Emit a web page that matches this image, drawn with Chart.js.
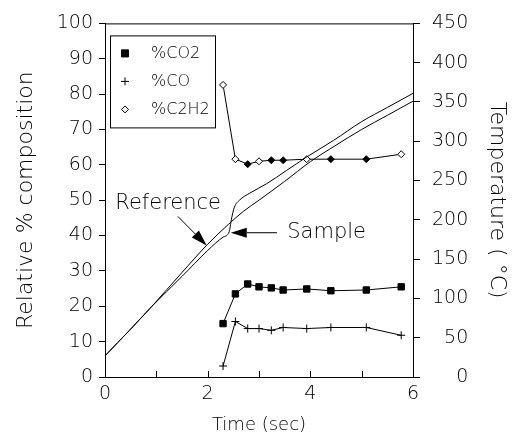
<!DOCTYPE html>
<html lang="en">
<head>
  <meta charset="UTF-8">
  <title>Composition and temperature vs time</title>
  <script src="https://cdn.jsdelivr.net/npm/chart.js"></script>
  <style>
    body { margin: 0; padding: 0; background: #fff; }
    #wrap { width: 522px; height: 437px; }
  </style>
</head>
<body>
  <div id="wrap"><canvas id="chart"></canvas></div>

  <script>
    // sampling times of the gas analysis (sec)
    const gasTimes = [2.3, 2.54, 2.78, 3.0, 3.24, 3.47, 3.93, 4.4, 5.09, 5.77];
    const co2 = [15.1, 23.5, 26.3, 25.5, 25.2, 24.6, 24.9, 24.4, 24.6, 25.5];
    const co = [3.1, 15.7, 13.7, 13.7, 13.2, 14.0, 13.7, 14.0, 14.0, 11.8];
    const c2h2 = [82.6, 61.6, 60.2, 61.0, 61.3, 61.3, 61.6, 61.6, 61.6, 63.0];
    const c2h2Filled = [false, false, true, false, true, true, false, true, true, false];

    // temperature traces (deg C, right axis)
    const refTimes = [0, 0.5, 0.9, 1.5, 2.0, 2.4, 2.7, 3.0, 3.5, 4.0, 4.5, 5.0, 5.5, 6.0];
    const refTemp = [27, 61, 89, 133, 169, 194, 211, 225, 249, 274, 295, 315, 333, 351];
    const sampleTimes = [0, 0.5, 0.9, 1.5, 2.0, 2.3, 2.42, 2.46, 2.52, 2.62, 2.82, 3.15, 3.54, 3.93, 4.45, 5.0, 5.5, 6.0];
    const sampleTemp = [27, 61, 89, 128, 161, 178, 185, 200, 216, 225, 234, 246, 263, 280, 301, 325, 343, 361];

    const xTicks = [0, 1, 2, 3, 4, 5, 6];
    const xLabels = ['0', '', '2', '', '4', '', '6'];

    const FONT = 'DejaVu Sans';
    Chart.defaults.font.family = FONT;
    Chart.defaults.font.size = 19;
    Chart.defaults.font.weight = 200;
    Chart.defaults.color = '#000';

    const pts = (xs, ys) => xs.map((x, i) => ({ x: x, y: ys[i] }));

    const extras = {
      id: 'extras',
      afterDraw(chart) {
        const ctx = chart.ctx;
        const a = chart.chartArea;
        const xs = chart.scales.x, ys = chart.scales.y;
        ctx.save();
        ctx.strokeStyle = '#000';
        ctx.fillStyle = '#000';
        ctx.lineWidth = 1;
        // frame
        ctx.strokeRect(a.left + 0.5, a.top + 0.5, a.right - a.left, a.bottom - a.top);
        // x ticks pointing inward
        xTicks.forEach(v => {
          const px = Math.round(xs.getPixelForValue(v)) + 0.5;
          ctx.beginPath();
          ctx.moveTo(px, a.bottom);
          ctx.lineTo(px, a.bottom - 6);
          ctx.stroke();
        });

        // legend box
        const lx = a.left + 5, ly = a.top + 12, lw = 105, lh = 92;
        ctx.strokeRect(lx + 0.5, ly + 0.5, lw, lh);
        ctx.font = '200 16px ' + FONT;
        ctx.textBaseline = 'middle';
        ctx.textAlign = 'left';
        const items = [
          { text: '%CO2', style: 'rect', r: 5, fill: '#000' },
          { text: '%CO', style: 'cross', r: 4, fill: '#000' },
          { text: '%C2H2', style: 'rectRot', r: 3.5, fill: '#fff' }
        ];
        items.forEach((it, i) => {
          const cy = ly + 18 + i * 28;
          ctx.fillStyle = it.fill;
          ctx.strokeStyle = '#000';
          Chart.helpers.drawPoint(ctx, { pointStyle: it.style, radius: it.r, borderWidth: 1 }, lx + 15, cy);
          ctx.fillStyle = '#000';
          ctx.fillText(it.text, lx + 41, cy);
        });

        // annotations
        ctx.font = '200 21px ' + FONT;
        ctx.textBaseline = 'middle';
        ctx.fillText('Reference', xs.getPixelForValue(0.2), ys.getPixelForValue(49));
        ctx.fillText('Sample', xs.getPixelForValue(3.55), ys.getPixelForValue(40.8));
        arrow(ctx, xs.getPixelForValue(1.42), ys.getPixelForValue(45.4), xs.getPixelForValue(1.98), ys.getPixelForValue(37.2));
        arrow(ctx, xs.getPixelForValue(3.35), ys.getPixelForValue(40.8), xs.getPixelForValue(2.45), ys.getPixelForValue(40.8));
        ctx.restore();
      }
    };

    function arrow(ctx, x1, y1, x2, y2) {
      const ang = Math.atan2(y2 - y1, x2 - x1);
      const len = 16, half = 5;
      ctx.beginPath();
      ctx.moveTo(x1, y1);
      ctx.lineTo(x2 - Math.cos(ang) * len, y2 - Math.sin(ang) * len);
      ctx.stroke();
      ctx.beginPath();
      ctx.moveTo(x2, y2);
      ctx.lineTo(x2 - Math.cos(ang) * len - Math.sin(ang) * half, y2 - Math.sin(ang) * len + Math.cos(ang) * half);
      ctx.lineTo(x2 - Math.cos(ang) * len + Math.sin(ang) * half, y2 - Math.sin(ang) * len - Math.cos(ang) * half);
      ctx.closePath();
      ctx.fill();
    }

    new Chart(document.getElementById('chart').getContext('2d'), {
      type: 'scatter',
      data: {
        datasets: [
          {
            label: 'Reference',
            data: pts(refTimes, refTemp),
            yAxisID: 'y1',
            showLine: true,
            borderColor: '#000',
            borderWidth: 1,
            pointRadius: 0,
            cubicInterpolationMode: 'monotone'
          },
          {
            label: 'Sample',
            data: pts(sampleTimes, sampleTemp),
            yAxisID: 'y1',
            showLine: true,
            borderColor: '#000',
            borderWidth: 1,
            pointRadius: 0,
            cubicInterpolationMode: 'monotone'
          },
          {
            label: '%CO2',
            data: pts(gasTimes, co2),
            yAxisID: 'y',
            showLine: true,
            borderColor: '#000',
            borderWidth: 1,
            backgroundColor: '#000',
            pointStyle: 'rect',
            pointRadius: 4.5
          },
          {
            label: '%CO',
            data: pts(gasTimes, co),
            yAxisID: 'y',
            showLine: true,
            borderColor: '#000',
            borderWidth: 1,
            pointStyle: 'cross',
            pointRadius: 4
          },
          {
            label: '%C2H2',
            data: pts(gasTimes, c2h2),
            yAxisID: 'y',
            showLine: true,
            borderColor: '#000',
            borderWidth: 1,
            pointStyle: 'rectRot',
            pointRadius: 3.5,
            pointBackgroundColor: c2h2Filled.map(f => f ? '#000' : '#fff')
          }
        ]
      },
      options: {
        responsive: true,
        maintainAspectRatio: false,
        animation: false,
        layout: { padding: { top: 20, left: 0, right: 0, bottom: 0 } },
        plugins: {
          legend: { display: false },
          tooltip: { enabled: false }
        },
        scales: {
          x: {
            type: 'linear',
            min: 0,
            max: 6,
            afterBuildTicks: s => { s.ticks = xTicks.map(v => ({ value: v })); },
            ticks: { padding: 6, callback: (v, i) => xLabels[i] },
            grid: { drawOnChartArea: false, drawTicks: false },
            border: { color: '#000' },
            title: { display: true, text: 'Time (sec)', font: { size: 18 }, padding: { top: 0, bottom: 1 } },
            afterFit: s => { s.height = 60; }
          },
          y: {
            position: 'left',
            min: 0,
            max: 100,
            ticks: { stepSize: 10, padding: 6 },
            grid: { drawOnChartArea: false, tickLength: 6, color: '#000' },
            border: { color: '#000' },
            title: { display: true, text: 'Relative % composition', font: { size: 22 }, padding: { top: 13, bottom: 0 } },
            afterFit: s => { s.width = 105; }
          },
          y1: {
            position: 'right',
            min: 0,
            max: 450,
            ticks: { stepSize: 50, padding: 12, callback: v => String(v).padStart(3, '\u2007') },
            grid: { drawOnChartArea: false, tickLength: 7, color: '#000' },
            border: { color: '#000' },
            title: { display: true, text: 'Temperature ( °C)', font: { size: 22 }, padding: { top: 12, bottom: 0 } },
            afterFit: s => { s.width = 109; }
          }
        }
      },
      plugins: [extras]
    });
  </script>
</body>
</html>
